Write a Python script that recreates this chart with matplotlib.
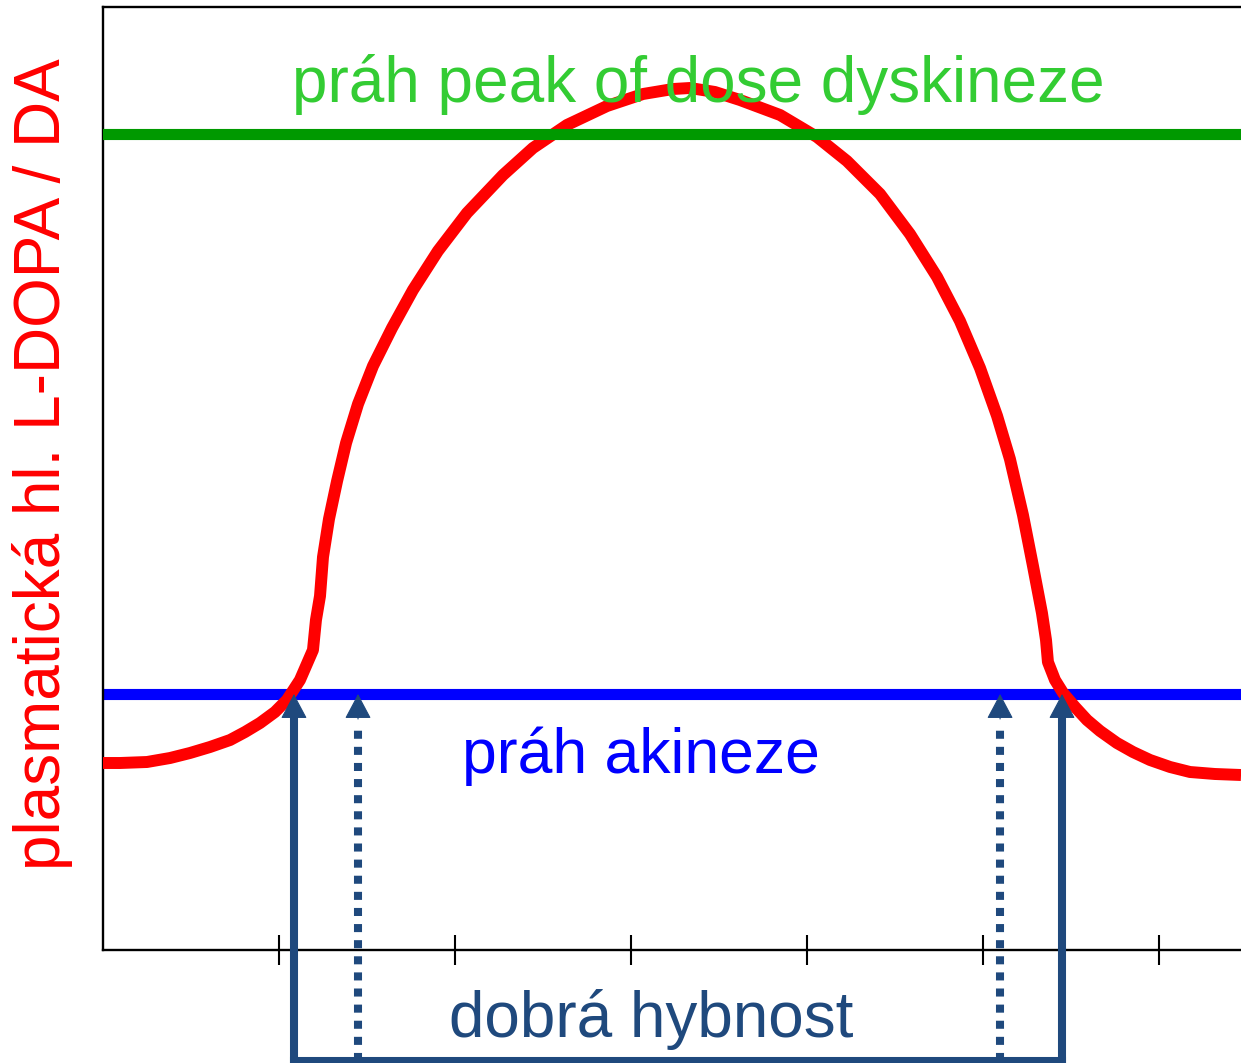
import matplotlib
matplotlib.use("Agg")
import matplotlib.pyplot as plt
from matplotlib import font_manager

# ---- data (x: time units, y: plasma level units) ----
curve_x = [0.000, 0.097, 0.250, 0.381, 0.494, 0.608, 0.722, 0.807, 0.892, 0.977,
           1.045, 1.119, 1.193,
           1.210, 1.233, 1.250, 1.284, 1.330, 1.381, 1.449, 1.534, 1.642, 1.761,
           1.903, 2.068, 2.273, 2.443, 2.636, 2.864, 3.068, 3.239, 3.335, 3.477,
           3.619, 3.847, 4.057, 4.227, 4.415, 4.585, 4.739, 4.869, 4.983, 5.080,
           5.153, 5.227, 5.284, 5.335, 5.358, 5.369,
           5.409, 5.455, 5.523, 5.591, 5.665, 5.761, 5.852, 5.949, 6.063, 6.176,
           6.318, 6.466]
curve_y = [1.87, 1.87, 1.88, 1.92, 1.97, 2.03, 2.10, 2.18, 2.27, 2.38,
           2.50, 2.70, 3.00,
           3.30, 3.54, 3.93, 4.31, 4.69, 5.07, 5.46, 5.84, 6.22, 6.60,
           6.99, 7.37, 7.75, 8.02, 8.25, 8.44, 8.56, 8.61, 8.62, 8.58,
           8.50, 8.35, 8.13, 7.89, 7.56, 7.16, 6.73, 6.29, 5.82, 5.34,
           4.91, 4.35, 3.84, 3.37, 3.10, 2.88,
           2.70, 2.57, 2.43, 2.30, 2.19, 2.07, 1.98, 1.90, 1.83, 1.78,
           1.76, 1.75]

dyskinesia_threshold = 8.16
akinesia_threshold = 2.56
x_ticks = [1, 2, 3, 4, 5, 6]

solid_arrow_x = [1.085, 5.449]
dotted_arrow_x = [1.449, 5.097]
arrow_bottom = -1.11

ylabel_text = "plasmatická hl. L-DOPA / DA"
green_label = "práh peak of dose dyskineze"
blue_label = "práh akineze"
motion_label = "dobrá hybnost"

# ---- fonts ----
avail = {f.name for f in font_manager.fontManager.ttflist}
main_font = "Liberation Sans" if "Liberation Sans" in avail else "DejaVu Sans"
narrow_font = "Liberation Sans Narrow" if "Liberation Sans Narrow" in avail else main_font

RED = "#FF0000"
GREEN_LINE = "#009900"
GREEN_TEXT = "#33CC33"
BLUE = "#0000FF"
DARK = "#1F497D"

fig = plt.figure(figsize=(12.41, 10.63), dpi=100)
ax = fig.add_axes([103 / 1241, (1063 - 950) / 1063, (1241 - 103) / 1241, (950 - 7) / 1063])
ax.set_xlim(0, (1241 - 103) / 176)
ax.set_ylim(0, 9.43)

for side in ["left", "bottom", "top"]:
    ax.spines[side].set_linewidth(1.7)
    ax.spines[side].set_color("black")
ax.spines["right"].set_visible(False)

ax.set_xticks(x_ticks)
ax.set_xticklabels([])
ax.set_yticks([])
ax.tick_params(axis="x", direction="inout", length=22, width=1.5, color="black")

# threshold lines
ax.axhline(akinesia_threshold, color=BLUE, lw=8, zorder=2)
ax.plot(curve_x, curve_y, color=RED, lw=8.6, zorder=3,
        solid_joinstyle="round", solid_capstyle="butt")
ax.axhline(dyskinesia_threshold, color=GREEN_LINE, lw=8, zorder=4)

# arrows
for x in solid_arrow_x:
    ax.plot([x, x], [arrow_bottom, akinesia_threshold - 0.2], color=DARK, lw=5.8,
            clip_on=False, zorder=5, solid_capstyle="projecting")
for x in dotted_arrow_x:
    ax.plot([x, x], [arrow_bottom, akinesia_threshold - 0.3], color=DARK, lw=5.8,
            linestyle=(0, (1, 1)), dash_capstyle="butt", clip_on=False, zorder=5)
ax.plot([solid_arrow_x[0], solid_arrow_x[1]], [arrow_bottom, arrow_bottom], color=DARK,
        lw=5.8, clip_on=False, zorder=5, solid_capstyle="projecting")

for x in solid_arrow_x + dotted_arrow_x:
    ax.annotate("", xy=(x, akinesia_threshold), xytext=(x, akinesia_threshold - 0.25),
                arrowprops=dict(arrowstyle="-|>,head_length=1.6,head_width=0.85",
                                mutation_scale=10, lw=0.8, color=DARK,
                                shrinkA=0, shrinkB=0),
                zorder=6, annotation_clip=False)

# texts
ax.text((698 - 103) / 176, (950 - 102) / 100, green_label, color=GREEN_TEXT,
        fontsize=46, family=main_font, ha="center", va="baseline", zorder=7)
ax.text((641 - 103) / 176, (950 - 773) / 100, blue_label, color=BLUE,
        fontsize=45, family=main_font, ha="center", va="baseline", zorder=7)
ax.text((651 - 103) / 176, (950 - 1037) / 100, motion_label, color=DARK,
        fontsize=46, family=main_font, ha="center", va="baseline", zorder=7,
        clip_on=False)

fig.text(43 / 1241, 1 - 464 / 1063, ylabel_text, color=RED, rotation=90,
         fontsize=46, family=narrow_font, ha="center", va="center")

fig.savefig("out.png", dpi=100, facecolor="white")
